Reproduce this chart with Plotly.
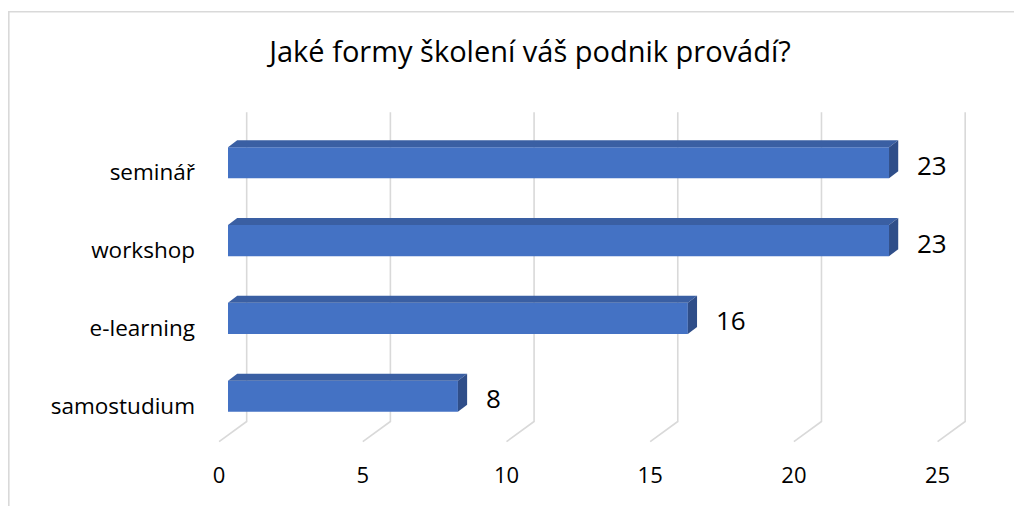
import plotly.graph_objects as go

# ---- data ----
categories = ["samostudium", "e-learning", "workshop", "seminář"]
values = [8, 16, 23, 23]
axis_ticks = [0, 5, 10, 15, 20, 25]
title_text = "Jaké formy školení váš podnik provádí?"

# ---- style / geometry ----
OFF = 8                      # page body margin compensation
W, H = 1022 - OFF, 506 - OFF
FRONT = "#4472C4"
TOP = "#3A5FA3"
SIDE = "#2F4E89"
GRID = "#D9D9D9"
FONT = "Open Sans"

BAR_W = 0.4           # bar thickness in category units
DEPTH_X = 0.32        # bar depth offset (value units)
DEPTH_Y = 0.09        # bar depth offset (category units)
BACK_DX = 0.65        # back wall offset from bar front (value units)
FLOOR_DX = -0.31      # floor front offset
BACK_BOTTOM = -0.325  # y where the walls meet the floor
FLOOR_FRONT = -0.585  # y of floor front edge
WALL_TOP = 3.65
LABEL_DY = -0.125

pos = list(range(len(categories)))

fig = go.Figure()

# front faces (real bars)
fig.add_trace(go.Bar(
    y=pos, x=values, orientation="h", width=BAR_W,
    marker=dict(color=FRONT, line=dict(width=0)),
    hoverinfo="skip", showlegend=False,
))

# top and side faces
for p, v in zip(pos, values):
    top = p + BAR_W / 2
    bot = p - BAR_W / 2
    fig.add_trace(go.Scatter(
        x=[0, v, v + DEPTH_X, DEPTH_X, 0],
        y=[top, top, top + DEPTH_Y, top + DEPTH_Y, top],
        fill="toself", fillcolor=TOP, mode="lines", line=dict(width=0),
        hoverinfo="skip", showlegend=False,
    ))
    fig.add_trace(go.Scatter(
        x=[v, v + DEPTH_X, v + DEPTH_X, v, v],
        y=[bot, bot + DEPTH_Y, top + DEPTH_Y, top, bot],
        fill="toself", fillcolor=SIDE, mode="lines", line=dict(width=0),
        hoverinfo="skip", showlegend=False,
    ))

# gridlines: back wall verticals + floor diagonals
shapes = []
for t in axis_ticks:
    xb = t + BACK_DX
    xf = t + FLOOR_DX
    shapes.append(dict(
        type="path", xref="x", yref="y", layer="below",
        path=f"M {xb} {WALL_TOP} L {xb} {BACK_BOTTOM} L {xf} {FLOOR_FRONT}",
        line=dict(color=GRID, width=1.6),
    ))

# plot area (figure pixel coords)
l, r, t_m, b = 200 - OFF, 22, 100 - OFF, 56
pw, ph = W - l - r, H - t_m - b

# chart frame
shapes.append(dict(
    type="rect", xref="paper", yref="paper", layer="below",
    x0=(8.8 - OFF - l) / pw, x1=(1100 - l) / pw,
    y0=(H - b - 600) / ph, y1=(H - b - (11.8 - OFF)) / ph,
    line=dict(color=GRID, width=1.6), fillcolor="rgba(0,0,0,0)",
))

# value labels
annotations = []
for p, v in zip(pos, values):
    annotations.append(dict(
        x=v, y=p, xref="x", yref="y", text=str(v), showarrow=False,
        xanchor="left", yanchor="middle", xshift=26, yshift=-2,
        font=dict(family=FONT, size=26, color="#000000"),
    ))

# axis ranges chosen so that 1 value unit ~ 28.74 px, 1 category ~ 77.8 px
x_px0 = 228 - OFF
x_unit = 28.74
y_px0 = 396.2 - OFF
y_unit = 77.8
x_range = [(l - x_px0) / x_unit, (W - r - x_px0) / x_unit]
y_range = [(y_px0 - (H - b)) / y_unit, (y_px0 - t_m) / y_unit]

fig.update_layout(
    width=W, height=H,
    margin=dict(l=l, r=r, t=t_m, b=b, pad=0),
    paper_bgcolor="white", plot_bgcolor="white",
    title=dict(
        text=title_text, x=(530 - OFF) / W, xanchor="center",
        y=1 - (52 - OFF) / H, yanchor="middle", yref="container",
        font=dict(family=FONT, size=29, color="#000000"),
    ),
    xaxis=dict(
        range=x_range, showgrid=False, zeroline=False, showline=False,
        tickvals=[tk + FLOOR_DX for tk in axis_ticks],
        ticktext=[str(tk) for tk in axis_ticks],
        ticks="", ticklabelstandoff=10,
        tickfont=dict(family=FONT, size=22, color="#000000"),
        fixedrange=True,
    ),
    yaxis=dict(
        range=y_range, showgrid=False, zeroline=False, showline=False,
        tickvals=[p + LABEL_DY for p in pos], ticktext=categories,
        ticks="", ticklabelstandoff=4,
        tickfont=dict(family=FONT, size=22.5, color="#000000"),
        fixedrange=True,
    ),
    shapes=shapes,
    annotations=annotations,
    showlegend=False,
)

fig.write_html("out.html")
